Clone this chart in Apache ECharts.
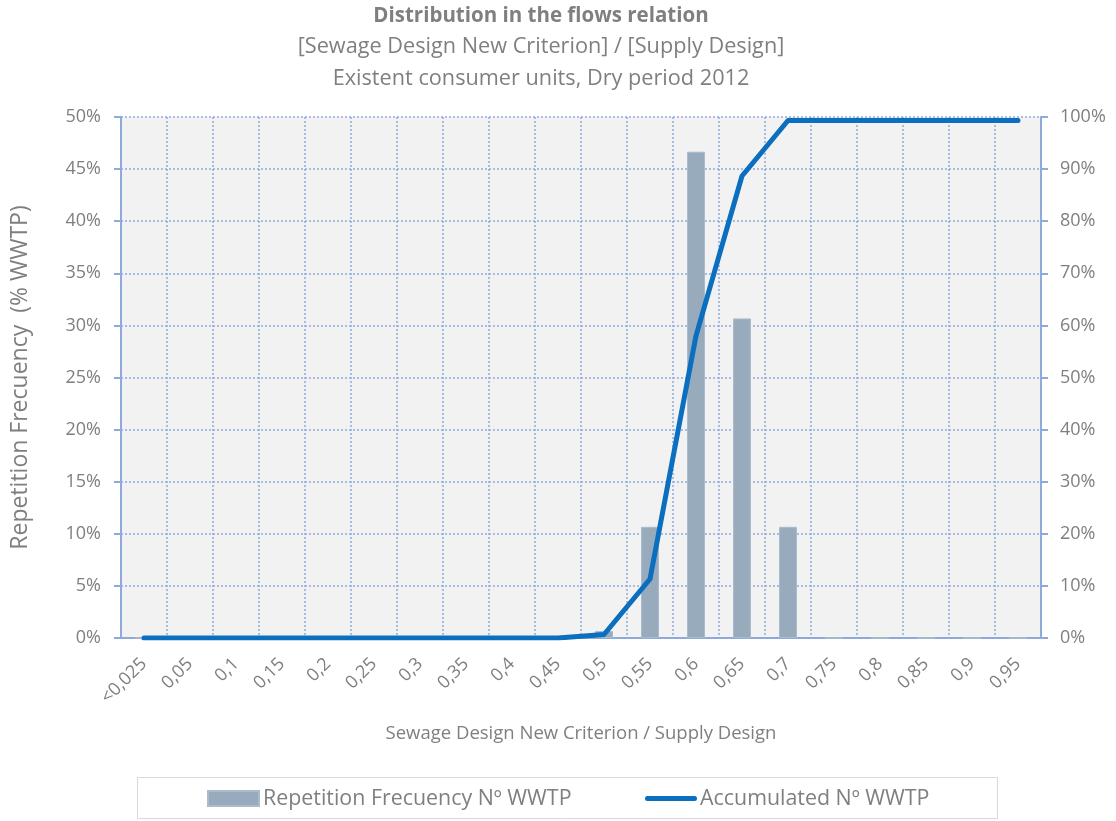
<!DOCTYPE html>
<html>
<head>
<meta charset="utf-8">
<script src="https://cdn.jsdelivr.net/npm/echarts@6/dist/echarts.min.js"></script>
<style>
  html, body { margin: 0; padding: 0; background: #ffffff; }
  #chart { width: 1116px; height: 821px; }
</style>
</head>
<body>
<div id="chart"></div>
<script>
// Flow-ratio classes (sewage design new criterion / supply design)
const categories = ['<0,025', '0,05', '0,1', '0,15', '0,2', '0,25', '0,3', '0,35', '0,4', '0,45',
                    '0,5', '0,55', '0,6', '0,65', '0,7', '0,75', '0,8', '0,85', '0,9', '0,95'];
// Share of WWTPs in each class (%)
const frequency = [0, 0, 0, 0, 0, 0, 0, 0, 0, 0, 0.67, 10.67, 46.67, 30.67, 10.67, 0, 0, 0, 0, 0];
// Accumulated share of WWTPs (%)
const accumulated = [0, 0, 0, 0, 0, 0, 0, 0, 0, 0, 0.67, 11.33, 58.0, 88.67, 99.33, 99.33, 99.33, 99.33, 99.33, 99.33];

const titleLines = ['Distribution in the flows relation',
                    '[Sewage Design New Criterion] / [Supply Design]',
                    'Existent consumer units, Dry period 2012'];
const seriesNames = ['Repetition Frecuency Nº WWTP', 'Accumulated Nº WWTP'];

const FONT = 'Open Sans';
const TEXT = '#7f7f7f';
const AXIS = '#8eaadb';
const BAR = '#97abbc';
const LINE = '#0b6ebf';

const chart = echarts.init(document.getElementById('chart'), null, { renderer: 'canvas' });

chart.setOption({
  backgroundColor: '#ffffff',
  animation: false,
  textStyle: { fontFamily: FONT, color: TEXT },
  graphic: [
    { type: 'text', style: { text: titleLines[0], x: 541, y: 16, textAlign: 'center', textVerticalAlign: 'middle', font: 'bold 20.5px "Open Sans"', fill: TEXT } },
    { type: 'text', style: { text: titleLines[1], x: 541, y: 47, textAlign: 'center', textVerticalAlign: 'middle', font: '21.7px "Open Sans"', fill: TEXT } },
    { type: 'text', style: { text: titleLines[2], x: 541, y: 79, textAlign: 'center', textVerticalAlign: 'middle', font: '21.7px "Open Sans"', fill: TEXT } },
    { type: 'rect', shape: { x: 137.5, y: 777.5, width: 860, height: 41 }, style: { fill: 'none', stroke: '#d9d9d9', lineWidth: 1 } }
  ],
  legend: [
    { data: [{ name: seriesNames[0], icon: 'rect' }], left: 207, top: 788, padding: 0, itemWidth: 51, itemHeight: 15, itemGap: 0,
      textStyle: { fontFamily: FONT, fontSize: 21.4, color: TEXT, padding: [0, 0, 0, -1] } },
    { data: [{ name: seriesNames[1], icon: 'path://M2.5,0 L49.5,0 A2.5,2.5 0 0 1 49.5,5 L2.5,5 A2.5,2.5 0 0 1 2.5,0 Z' }],
      left: 645, top: 788, padding: 0, itemWidth: 52, itemHeight: 5, itemGap: 0,
      itemStyle: { color: LINE }, lineStyle: { width: 0 },
      textStyle: { fontFamily: FONT, fontSize: 21.4, color: TEXT, padding: [0, 0, 0, -2] } }
  ],
  grid: { left: 121, right: 75, top: 117, bottom: 183, containLabel: false,
          show: true, backgroundColor: '#f2f2f2', borderWidth: 0 },
  xAxis: {
    type: 'category',
    data: categories,
    boundaryGap: true,
    name: 'Sewage Design New Criterion / Supply Design',
    nameLocation: 'middle',
    nameGap: 86,
    nameTextStyle: { fontFamily: FONT, fontSize: 18.5, color: TEXT },
    axisLine: { lineStyle: { color: AXIS, width: 2 } },
    axisTick: { show: false },
    axisLabel: { rotate: 45, margin: 23, interval: 0, fontFamily: FONT, fontSize: 18, color: TEXT },
    splitLine: { show: true, interval: 0, lineStyle: { color: AXIS, type: [2, 2], width: 1.5 } }
  },
  yAxis: [
    {
      type: 'value', min: 0, max: 50, interval: 5, position: 'left',
      name: 'Repetition Frecuency  (% WWTP)',
      nameLocation: 'middle', nameGap: 89, nameRotate: 90,
      nameTextStyle: { fontFamily: FONT, fontSize: 23, color: TEXT },
      axisLine: { show: true, lineStyle: { color: AXIS, width: 2 } },
      axisTick: { show: true, length: 7, lineStyle: { color: AXIS, width: 2 } },
      axisLabel: { formatter: '{value}%', margin: 20, fontFamily: FONT, fontSize: 18, color: TEXT },
      splitLine: { show: true, lineStyle: { color: AXIS, type: [2, 2], width: 1.5 } }
    },
    {
      type: 'value', min: 0, max: 100, interval: 10, position: 'right',
      axisLine: { show: true, lineStyle: { color: AXIS, width: 2 } },
      axisTick: { show: true, length: 7, lineStyle: { color: AXIS, width: 2 } },
      axisLabel: { formatter: '{value}%', margin: 19, fontFamily: FONT, fontSize: 18, color: TEXT },
      splitLine: { show: false }
    }
  ],
  series: [
    {
      name: seriesNames[0], type: 'bar', yAxisIndex: 0, data: frequency,
      barWidth: 18,
      itemStyle: { color: BAR, borderColor: '#a9bccb', borderWidth: 1 }
    },
    {
      name: seriesNames[1], type: 'line', yAxisIndex: 1, data: accumulated,
      symbol: 'none',
      lineStyle: { color: LINE, width: 5, cap: 'round', join: 'round' },
      itemStyle: { color: LINE }
    }
  ]
});
</script>
</body>
</html>
